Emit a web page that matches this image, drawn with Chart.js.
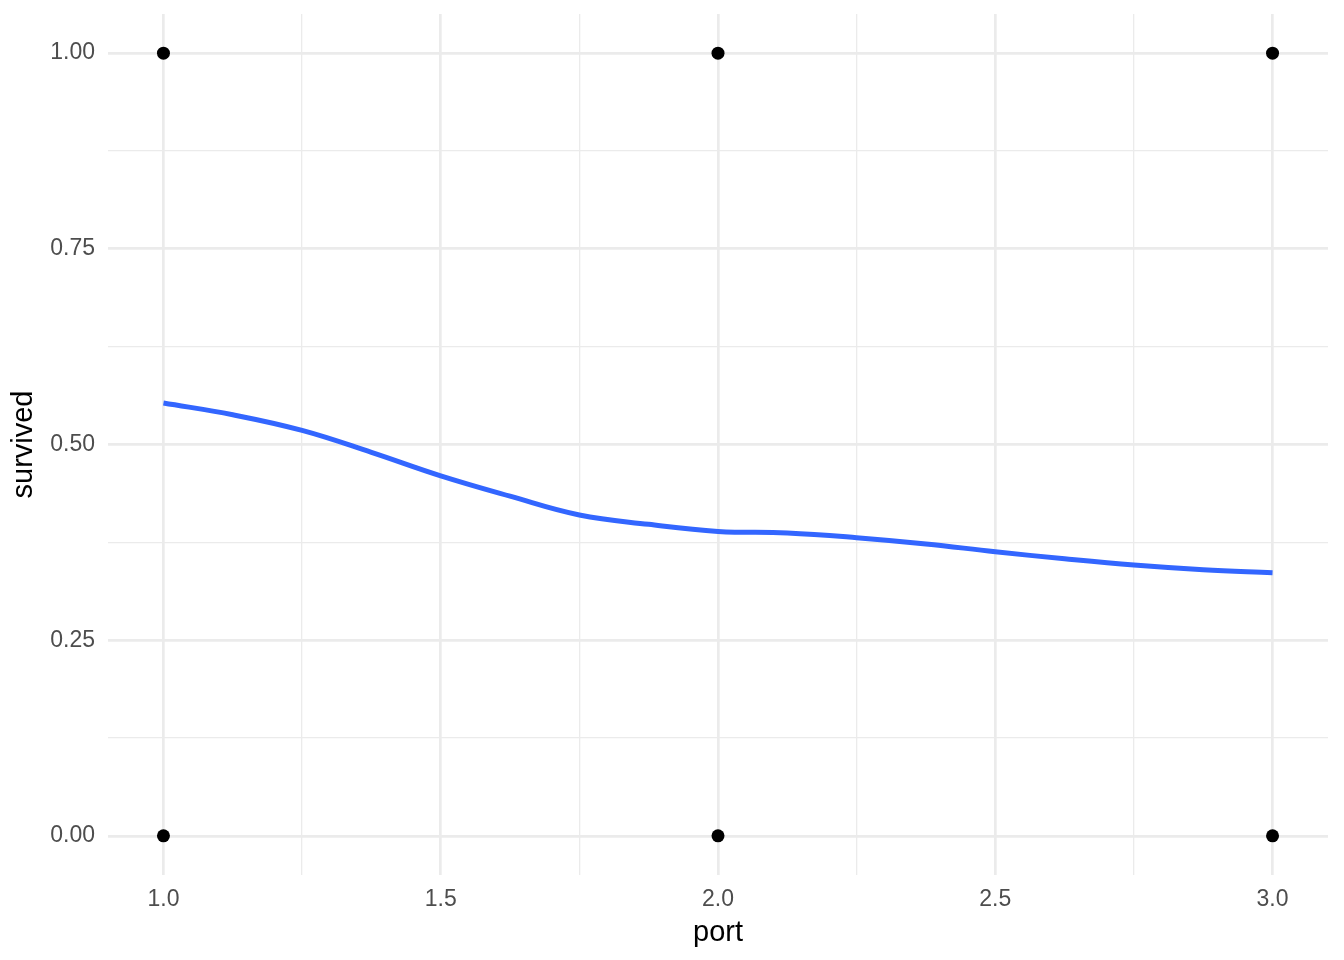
<!DOCTYPE html>
<html>
<head>
<meta charset="utf-8">
<script src="https://cdn.jsdelivr.net/npm/chart.js@4"></script>
<style>
  body { margin: 0; background: #fff; }
  canvas { display: block; }
</style>
</head>
<body>
<canvas id="chart" width="1344" height="960"></canvas>
<script>
// raw points (port vs survived)
const ports = [1, 1, 2, 2, 3, 3];
const survived = [0, 1, 0, 1, 0, 1];

// smoothed curve
const smoothX = [1, 1.125, 1.25, 1.375, 1.5, 1.625, 1.75, 1.875, 2, 2.125, 2.25, 2.375, 2.5, 2.625, 2.75, 2.875, 3];
const smoothY = [0.553, 0.538, 0.518, 0.490, 0.460, 0.434, 0.410, 0.398, 0.389, 0.387, 0.381, 0.373, 0.363, 0.354, 0.346, 0.340, 0.336];

// tick labels
const xMajor = [1.0, 1.5, 2.0, 2.5, 3.0];
const xMinor = [1.25, 1.75, 2.25, 2.75];
const yMajor = [0, 0.25, 0.5, 0.75, 1.0];
const yMinor = [0.125, 0.375, 0.625, 0.875];

const FONT = "'Liberation Sans', Arial, Helvetica, sans-serif";
const GRID = "#EBEBEB";

const isMajor = (list, v) => list.some((m) => Math.abs(m - v) < 1e-9);
const buildTicks = (major, minor) =>
  major.concat(minor).sort((a, b) => a - b).map((v) => ({ value: v }));

new Chart(document.getElementById("chart").getContext("2d"), {
  type: "scatter",
  data: {
    datasets: [
      {
        type: "line",
        data: smoothX.map((x, i) => ({ x: x, y: smoothY[i] })),
        borderColor: "#3366FF",
        borderWidth: 5,
        pointRadius: 0,
        fill: false,
        tension: 0.4,
        order: 2,
      },
      {
        data: ports.map((x, i) => ({ x: x, y: survived[i] })),
        backgroundColor: "#000000",
        borderColor: "#000000",
        pointRadius: 6.5,
        borderWidth: 0,
        order: 1,
      },
    ],
  },
  options: {
    responsive: false,
    animation: false,
    layout: { padding: { left: 0, right: 16, top: 14, bottom: 0 } },
    plugins: {
      legend: { display: false },
      tooltip: { enabled: false },
    },
    scales: {
      x: {
        type: "linear",
        min: 0.9,
        max: 3.1,
        afterBuildTicks: (scale) => { scale.ticks = buildTicks(xMajor, xMinor); },
        afterFit: (scale) => {
          scale.height = 85;
          scale.paddingLeft = 0;
          scale.paddingRight = 0;
        },
        border: { display: false },
        grid: {
          drawTicks: false,
          color: GRID,
          lineWidth: (ctx) => (ctx.tick && isMajor(xMajor, ctx.tick.value) ? 2.7 : 1.3),
        },
        ticks: {
          padding: 11,
          color: "#4D4D4D",
          font: { family: FONT, size: 23 },
          maxRotation: 0,
          autoSkip: false,
          callback: (v) => (isMajor(xMajor, v) ? Number(v).toFixed(1) : ""),
        },
        title: {
          display: true,
          text: "port",
          color: "#000000",
          font: { family: FONT, size: 29 },
          padding: { top: 0, bottom: 10 },
        },
      },
      y: {
        type: "linear",
        min: -0.05,
        max: 1.05,
        afterBuildTicks: (scale) => { scale.ticks = buildTicks(yMajor, yMinor); },
        afterFit: (scale) => {
          scale.width = 108;
          scale.paddingTop = 0;
          scale.paddingBottom = 0;
        },
        border: { display: false },
        grid: {
          drawTicks: false,
          color: GRID,
          lineWidth: (ctx) => (ctx.tick && isMajor(yMajor, ctx.tick.value) ? 2.7 : 1.3),
        },
        ticks: {
          padding: 13,
          color: "#4D4D4D",
          font: { family: FONT, size: 23 },
          autoSkip: false,
          callback: (v) => (isMajor(yMajor, v) ? Number(v).toFixed(2) : ""),
        },
        title: {
          display: true,
          text: "survived",
          color: "#000000",
          font: { family: FONT, size: 29 },
          padding: { top: 7, bottom: 0 },
        },
      },
    },
  },
});
</script>
</body>
</html>
